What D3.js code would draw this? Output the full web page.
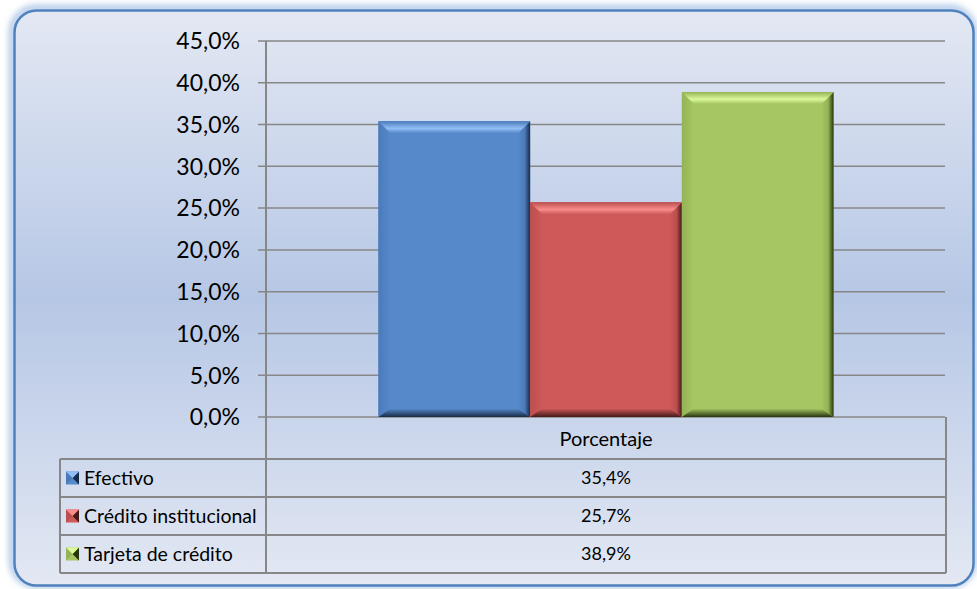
<!DOCTYPE html>
<html>
<head>
<meta charset="utf-8">
<script src="https://cdn.jsdelivr.net/npm/d3@7"></script>
<style>
  html, body { margin: 0; padding: 0; background: #ffffff; }
  svg { display: block; }
  text { font-family: Lato, "Open Sans", sans-serif; fill: #000; }
</style>
</head>
<body>
<svg id="chart" width="977" height="589"></svg>
<script>
// Payment method shares (percent)
const categories = ["Porcentaje"];
const series = ["Efectivo", "Crédito institucional", "Tarjeta de crédito"];
const values = [35.4, 25.7, 38.9];
const yTicks = [0, 5, 10, 15, 20, 25, 30, 35, 40, 45];

// Bar palettes: base, highlight, dark edge, soft edge
const palette = [
  { base: "#5689c9", hi: "#90bef6", dark: "#182b46", soft: "#4b7aba" },
  { base: "#cd5958", hi: "#f78c8a", dark: "#431a19", soft: "#bb4f4e" },
  { base: "#a5c663", hi: "#dcf89b", dark: "#28350f", soft: "#93b355" }
];

const es = d3.formatLocale({ decimal: ",", thousands: ".", grouping: [3], currency: ["", " €"] });
const pct = v => es.format(".1f")(v) + "%";

const svg = d3.select("#chart");
const defs = svg.append("defs");

// Frame background and glow
const bg = defs.append("linearGradient").attr("id", "bg").attr("x1", 0).attr("y1", 0).attr("x2", 0).attr("y2", 1);
bg.append("stop").attr("offset", "0%").attr("stop-color", "#e3e8f3");
bg.append("stop").attr("offset", "50%").attr("stop-color", "#b6c7e5");
bg.append("stop").attr("offset", "100%").attr("stop-color", "#e3e8f3");

const glow = defs.append("filter").attr("id", "glow").attr("x", "-5%").attr("y", "-5%").attr("width", "110%").attr("height", "110%");
glow.append("feGaussianBlur").attr("stdDeviation", 3);

svg.append("rect")
  .attr("x", 12).attr("y", 8).attr("width", 962).attr("height", 577).attr("rx", 24)
  .attr("fill", "none").attr("stroke", "#a9c3e6").attr("stroke-width", 6)
  .attr("filter", "url(#glow)");

svg.append("rect")
  .attr("x", 14.5).attr("y", 10.5).attr("width", 959).attr("height", 575).attr("rx", 22)
  .attr("fill", "url(#bg)").attr("stroke", "#4f81bd").attr("stroke-width", 2.5);

// Scales
const plotLeft = 266, plotRight = 946, plotTop = 41, plotBottom = 417;
const y = d3.scaleLinear().domain([0, 45]).range([plotBottom, plotTop]);
const xCat = d3.scaleBand().domain(categories).range([plotLeft, plotRight]).paddingInner(0).paddingOuter(0.247);
const xSer = d3.scaleBand().domain(series).range([0, xCat.bandwidth()]).padding(0);

const gridColor = "#878787";

// Gridlines
svg.append("g").selectAll("line").data(yTicks).join("line")
  .attr("x1", plotLeft - 8).attr("x2", plotRight - 1)
  .attr("y1", d => y(d)).attr("y2", d => y(d))
  .attr("stroke", gridColor).attr("stroke-width", 1.5);

// Y tick labels
svg.append("g").selectAll("text").data(yTicks).join("text")
  .attr("x", 240).attr("y", d => y(d)).attr("dy", "0.36em")
  .attr("text-anchor", "end").attr("font-size", 23)
  .text(d => pct(d));

// Bevel gradients per series
palette.forEach((p, i) => {
  const top = defs.append("linearGradient").attr("id", "top" + i).attr("x1", 0).attr("y1", 0).attr("x2", 0).attr("y2", 1);
  top.append("stop").attr("offset", "0%").attr("stop-color", p.soft);
  top.append("stop").attr("offset", "60%").attr("stop-color", p.hi);
  top.append("stop").attr("offset", "100%").attr("stop-color", p.base);

  const right = defs.append("linearGradient").attr("id", "right" + i).attr("x1", 0).attr("y1", 0).attr("x2", 1).attr("y2", 0);
  right.append("stop").attr("offset", "0%").attr("stop-color", p.base);
  right.append("stop").attr("offset", "55%").attr("stop-color", p.soft);
  right.append("stop").attr("offset", "100%").attr("stop-color", p.dark);

  const bottom = defs.append("linearGradient").attr("id", "bottom" + i).attr("x1", 0).attr("y1", 0).attr("x2", 0).attr("y2", 1);
  bottom.append("stop").attr("offset", "0%").attr("stop-color", p.base);
  bottom.append("stop").attr("offset", "100%").attr("stop-color", p.dark);

  const left = defs.append("linearGradient").attr("id", "left" + i).attr("x1", 0).attr("y1", 0).attr("x2", 1).attr("y2", 0);
  left.append("stop").attr("offset", "0%").attr("stop-color", p.soft);
  left.append("stop").attr("offset", "100%").attr("stop-color", p.base);
});

// Bars with bevelled edges
const b = 12;
const bars = svg.append("g").selectAll("g").data(series).join("g");
bars.each(function (s, i) {
  const g = d3.select(this);
  const x0 = xCat(categories[0]) + xSer(s);
  const x1 = x0 + xSer.bandwidth();
  const y0 = y(values[i]);
  const y1 = y(0);
  const p = palette[i];
  const pts = a => a.map(q => q.join(",")).join(" ");
  g.append("rect").attr("x", x0).attr("y", y0).attr("width", x1 - x0).attr("height", y1 - y0).attr("fill", p.base);
  g.append("polygon").attr("points", pts([[x0, y0], [x0 + b, y0 + b], [x0 + b, y1 - b * 0.7], [x0, y1]])).attr("fill", `url(#left${i})`);
  g.append("polygon").attr("points", pts([[x0, y1], [x1, y1], [x1 - b, y1 - b * 0.7], [x0 + b, y1 - b * 0.7]])).attr("fill", `url(#bottom${i})`);
  g.append("polygon").attr("points", pts([[x1, y0], [x1, y1], [x1 - b, y1 - b * 0.7], [x1 - b, y0 + b]])).attr("fill", `url(#right${i})`);
  g.append("polygon").attr("points", pts([[x0, y0], [x1, y0], [x1 - b, y0 + b], [x0 + b, y0 + b]])).attr("fill", `url(#top${i})`);
});

// Vertical axis line (continues through the category header row)
const tableLeft = 60, rowTop = 459, rowH = 38;
svg.append("line")
  .attr("x1", plotLeft).attr("x2", plotLeft).attr("y1", plotTop).attr("y2", rowTop + rowH * series.length)
  .attr("stroke", gridColor).attr("stroke-width", 2);

// Data table
const tbl = svg.append("g").attr("stroke", gridColor).attr("stroke-width", 2).attr("fill", "none");
tbl.append("line").attr("x1", plotRight).attr("x2", plotRight).attr("y1", plotBottom).attr("y2", rowTop + rowH * series.length);
tbl.append("line").attr("x1", tableLeft).attr("x2", tableLeft).attr("y1", rowTop).attr("y2", rowTop + rowH * series.length);
tbl.selectAll("line.row").data(d3.range(series.length + 1)).join("line").attr("class", "row")
  .attr("x1", tableLeft).attr("x2", plotRight)
  .attr("y1", d => rowTop + d * rowH).attr("y2", d => rowTop + d * rowH);

svg.append("text").attr("x", (plotLeft + plotRight) / 2).attr("y", (plotBottom + rowTop) / 2 + 1).attr("dy", "0.36em")
  .attr("text-anchor", "middle").attr("font-size", 20).text(categories[0]);

const rows = svg.append("g").selectAll("g").data(series).join("g")
  .attr("transform", (d, i) => `translate(0,${rowTop + i * rowH + rowH / 2})`);
rows.append("text").attr("x", (plotLeft + plotRight) / 2).attr("dy", "0.36em")
  .attr("text-anchor", "middle").attr("font-size", 18).text((d, i) => pct(values[i]));
rows.append("text").attr("x", 84).attr("dy", "0.36em").attr("font-size", 19.5).text(d => d);

// Legend keys (bevelled squares)
rows.each(function (s, i) {
  const g = d3.select(this);
  const p = palette[i];
  const k = 13, kx = 66, ky = -6.5;
  const c = [kx + k / 2, ky + k / 2];
  g.append("rect").attr("x", kx).attr("y", ky).attr("width", k).attr("height", k).attr("fill", p.base);
  g.append("polygon").attr("points", `${kx},${ky} ${c[0]},${c[1]} ${kx},${ky + k}`).attr("fill", p.soft);
  g.append("polygon").attr("points", `${kx + k},${ky} ${c[0]},${c[1]} ${kx + k},${ky + k}`).attr("fill", p.dark);
  g.append("polygon").attr("points", `${kx},${ky} ${kx + k},${ky} ${c[0]},${c[1]}`).attr("fill", p.hi);
});
</script>
</body>
</html>
